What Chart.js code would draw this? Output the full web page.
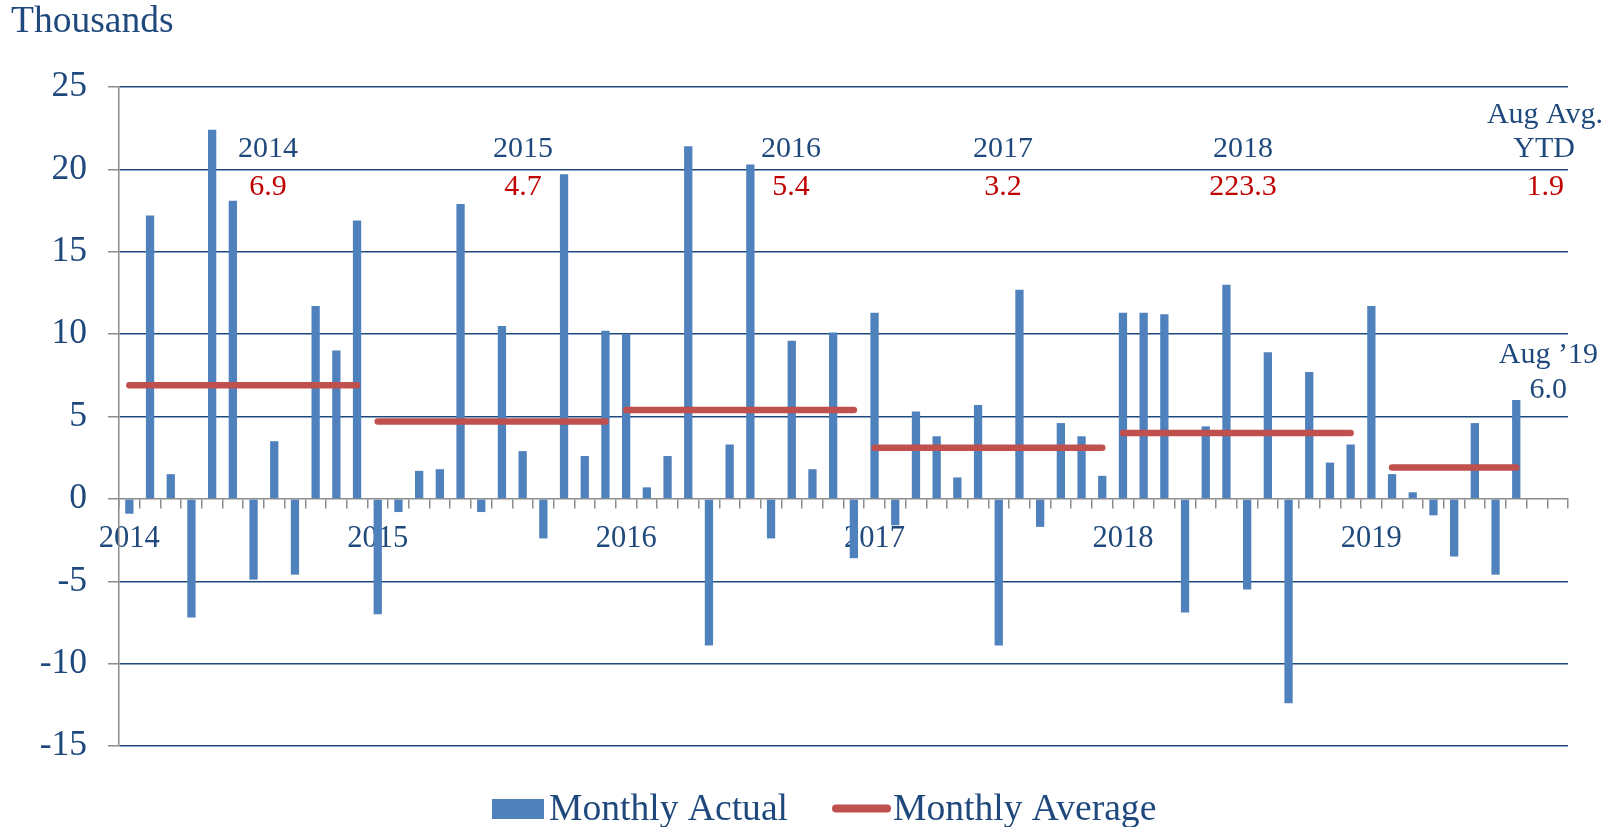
<!DOCTYPE html>
<html>
<head>
<meta charset="utf-8">
<script src="https://cdn.jsdelivr.net/npm/chart.js@4"></script>
<style>
  html, body { margin: 0; padding: 0; background: #fff; }
</style>
</head>
<body>
<canvas id="chart" width="1615" height="827"></canvas>
<script>
// data (thousands)
const years = ['2014', '2015', '2016', '2017', '2018', '2019'];
const monthNames = ['Jan', 'Feb', 'Mar', 'Apr', 'May', 'Jun', 'Jul', 'Aug', 'Sep', 'Oct', 'Nov', 'Dec'];

const actual2014 = [-0.9, 17.2, 1.5, -7.2, 22.4, 18.1, -4.9, 3.5, -4.6, 11.7, 9.0, 16.9];
const actual2015 = [-7.0, -0.8, 1.7, 1.8, 17.9, -0.8, 10.5, 2.9, -2.4, 19.7, 2.6, 10.2];
const actual2016 = [10.0, 0.7, 2.6, 21.4, -8.9, 3.3, 20.3, -2.4, 9.6, 1.8, 10.1, -3.6];
const actual2017 = [11.3, -1.6, 5.3, 3.8, 1.3, 5.7, -8.9, 12.7, -1.7, 4.6, 3.8, 1.4];
const actual2018 = [11.3, 11.3, 11.2, -6.9, 4.4, 13.0, -5.5, 8.9, -12.4, 7.7, 2.2, 3.3];
const actual2019 = [11.7, 1.5, 0.4, -1.0, -3.5, 4.6, -4.6, 6.0];

// yearly average, and first / last month index the red bar covers
const yearAverages = [6.9, 4.7, 5.4, 3.1, 4.0, 1.9];
const avgFrom = [0, 12, 24, 36, 48, 61];
const avgTo = [11, 23, 35, 47, 59, 67];

// printed labels (kept as on the original, typo included)
const avgLabels = ['6.9', '4.7', '5.4', '3.2', '223.3', '1.9'];
const yTicks = [-15, -10, -5, 0, 5, 10, 15, 20, 25];

const MONTH_COUNT = 70; // axis runs Jan 2014 .. Oct 2019

const navy = '#1F497D';
const blue = '#4F81BD';
const red = '#C0504D';
const darkRed = '#C00000';
const axisGrey = '#8C8C8C';
const serif = '"Liberation Serif", "Times New Roman", serif';

const monthLabels = [];
years.forEach(y => monthNames.forEach(m => monthLabels.push(m + ' ' + y)));
monthLabels.length = MONTH_COUNT;

const actual = [].concat(actual2014, actual2015, actual2016, actual2017, actual2018, actual2019);

const avgSeries = monthLabels.map(() => null);
yearAverages.forEach((v, i) => {
  for (let m = avgFrom[i]; m <= avgTo[i]; m++) avgSeries[m] = v;
});

// text drawn on top of the plot
const notesPlugin = {
  id: 'notes',
  afterDraw(chart) {
    const { ctx } = chart;
    ctx.save();
    ctx.textBaseline = 'middle';

    ctx.font = '37.5px ' + serif;
    ctx.fillStyle = navy;
    ctx.textAlign = 'left';
    ctx.fillText('Thousands', 11, 22);

    ctx.font = '30px ' + serif;
    ctx.textAlign = 'center';
    const noteX = [268, 523, 791, 1003, 1243];
    noteX.forEach((x, i) => {
      ctx.fillStyle = navy;
      ctx.fillText(years[i], x, 149);
      ctx.fillStyle = darkRed;
      ctx.fillText(avgLabels[i], x, 187);
    });

    ctx.textAlign = 'right';
    ctx.fillStyle = navy;
    ctx.fillText('Aug Avg.', 1603, 115);
    ctx.fillText('YTD', 1575, 149);
    ctx.fillText('Aug \u201919', 1598, 355);
    ctx.fillText(actual[actual.length - 1].toFixed(1), 1567, 390);
    ctx.fillStyle = darkRed;
    ctx.fillText(avgLabels[5], 1564, 187);

    // legend
    const ds = chart.data.datasets;
    ctx.fillStyle = ds[1].backgroundColor;
    ctx.fillRect(492, 799, 52, 20);
    ctx.strokeStyle = ds[0].borderColor;
    ctx.lineWidth = 8;
    ctx.lineCap = 'round';
    ctx.beginPath();
    ctx.moveTo(836, 808.5);
    ctx.lineTo(887, 808.5);
    ctx.stroke();

    ctx.font = '37.6px ' + serif;
    ctx.fillStyle = navy;
    ctx.textAlign = 'left';
    ctx.textBaseline = 'alphabetic';
    ctx.fillText(ds[1].label, 549, 819.5);
    ctx.fillText(ds[0].label, 893, 819.5);
    ctx.restore();
  }
};

const ctx = document.getElementById('chart').getContext('2d');
new Chart(ctx, {
  type: 'bar',
  data: {
    labels: monthLabels,
    datasets: [
      {
        type: 'line',
        label: 'Monthly Average',
        data: avgSeries,
        borderColor: red,
        borderWidth: 6.5,
        borderCapStyle: 'round',
        pointRadius: 0,
        spanGaps: false,
        order: 0,
        segment: {
          // no joining stroke between one year's bar and the next
          borderColor: c => ((c.p0DataIndex + 1) % 12 === 0 ? 'rgba(0,0,0,0)' : red)
        }
      },
      {
        type: 'bar',
        label: 'Monthly Actual',
        data: actual,
        backgroundColor: blue,
        barPercentage: 0.4,
        categoryPercentage: 1,
        order: 1
      }
    ]
  },
  options: {
    responsive: false,
    animation: false,
    layout: { padding: { top: 87, right: 47, bottom: 81, left: 0 } },
    plugins: {
      legend: { display: false },
      tooltip: { enabled: false }
    },
    scales: {
      x: {
        position: { y: 0 },
        offset: true,
        grid: {
          offset: true,
          drawOnChartArea: false,
          tickLength: 9,
          tickColor: axisGrey,
          lineWidth: 1.5
        },
        border: { color: axisGrey, width: 1.5 },
        ticks: {
          autoSkip: false,
          maxRotation: 0,
          padding: 13,
          color: navy,
          font: { family: serif, size: 30.5 },
          callback: (v, i) => (i % 12 === 0 ? years[i / 12] : '')
        }
      },
      y: {
        min: yTicks[0],
        max: yTicks[yTicks.length - 1],
        afterFit: s => { s.width = 119; },
        afterBuildTicks: s => { s.ticks = yTicks.map(v => ({ value: v })); },
        grid: {
          color: c => (c.tick && c.tick.value === 0 ? 'rgba(0,0,0,0)' : navy),
          lineWidth: 1.5,
          tickLength: 11,
          tickColor: axisGrey
        },
        border: { color: axisGrey, width: 1.5 },
        ticks: {
          padding: 21,
          color: navy,
          font: { family: serif, size: 35.5 }
        }
      }
    }
  },
  plugins: [notesPlugin]
});
</script>
</body>
</html>
